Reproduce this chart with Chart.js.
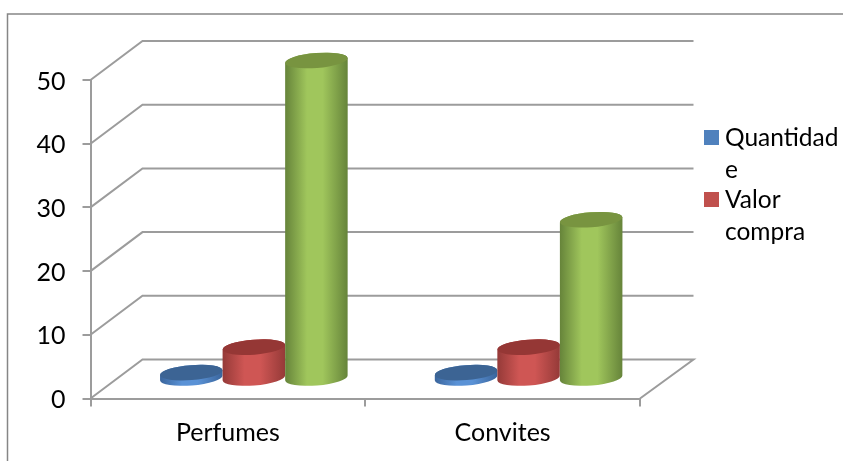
<!DOCTYPE html>
<html><head><meta charset="utf-8">
<style>html,body{margin:0;padding:0;background:#fff;overflow:hidden}canvas{display:block}</style>
<script src="https://cdn.jsdelivr.net/npm/chart.js@4"></script></head>
<body><canvas id="c" width="843" height="461"></canvas>
<script>
const categories = ["Perfumes", "Convites"];
const quantidade = [1, 1];
const valorCompra = [5, 5];
const valorVenda = [50, 25];
const legendQuantidade = ["Quantidad", "e"];
const legendValor = ["Valor", "compra"];
const yTicks = [0, 10, 20, 30, 40, 50];

const FONT = 'Lato, "Noto Sans", sans-serif';
const GRID = '#9c9c9c';
const DEPTH_X = 52, DEPTH_Y = 39;
const looks = [
  {edge:'#3a659c', mid:'#5a92d6', top:'#3c6494'},
  {edge:'#953a38', mid:'#cf5654', top:'#953735'},
  {edge:'#66843a', mid:'#a0c65c', top:'#789440'}
];

const scene = {
  id: 'scene',
  beforeDatasetsDraw(chart) {
    const {ctx, chartArea:a, scales:{y}} = chart;
    ctx.save();
    ctx.strokeStyle = '#868686'; ctx.lineWidth = 1.5;
    ctx.beginPath(); ctx.moveTo(7.5, 461); ctx.lineTo(7.5, 14); ctx.lineTo(843, 14); ctx.stroke();
    ctx.strokeStyle = GRID; ctx.lineWidth = 2;
    yTicks.forEach(v => {
      const py = y.getPixelForValue(v);
      ctx.beginPath();
      ctx.moveTo(a.left, py);
      ctx.lineTo(a.left + DEPTH_X, py - DEPTH_Y);
      ctx.lineTo(693.5, py - DEPTH_Y);
      if (v === 0) ctx.lineTo(a.right, py);
      ctx.stroke();
    });
    ctx.restore();
  },
  beforeDatasetDraw() { return false; },
  afterDatasetsDraw(chart) {
    const ctx = chart.ctx;
    chart.data.datasets.forEach((ds, i) => {
      chart.getDatasetMeta(i).data.forEach(el => {
        cylinder(ctx, el.x + DEPTH_X / 2, el.y - DEPTH_Y / 2, el.base - DEPTH_Y / 2, el.width, looks[i]);
      });
    });
    drawLegend(ctx);
  }
};

function cylinder(ctx, cx, top, base, w, look) {
  const rx = w / 2, ry = 7.5, rot = -4.5 * Math.PI / 180;
  const dy = rx * Math.sin(rot);
  ctx.save();
  const g = ctx.createLinearGradient(cx - rx, 0, cx + rx, 0);
  g.addColorStop(0, look.edge);
  g.addColorStop(0.35, look.mid);
  g.addColorStop(0.6, look.mid);
  g.addColorStop(1, look.edge);
  ctx.fillStyle = g;
  ctx.beginPath();
  ctx.moveTo(cx - rx, top - dy);
  ctx.lineTo(cx - rx, base - dy);
  ctx.ellipse(cx, base, rx, ry, rot, Math.PI, 0, true);
  ctx.lineTo(cx + rx, top + dy);
  ctx.ellipse(cx, top, rx, ry, rot, 0, Math.PI, true);
  ctx.closePath();
  ctx.fill();
  ctx.fillStyle = look.top;
  ctx.beginPath();
  ctx.ellipse(cx, top, rx, ry, rot, 0, Math.PI * 2);
  ctx.fill();
  ctx.restore();
}

function drawLegend(ctx) {
  ctx.save();
  const entries = [[legendQuantidade, '#4f81bd', 130], [legendValor, '#c0504d', 192]];
  ctx.font = '24.5px ' + FONT;
  ctx.textBaseline = 'middle';
  ctx.textAlign = 'left';
  entries.forEach(([lines, color, y0]) => {
    ctx.fillStyle = color;
    ctx.fillRect(704, y0, 15, 15);
    ctx.fillStyle = '#000';
    lines.forEach((t, k) => ctx.fillText(t, 725, y0 + 8 + k * 32));
  });
  ctx.restore();
}

new Chart(document.getElementById('c'), {
  type: 'bar',
  data: {
    labels: categories,
    datasets: [
      {label: 'Quantidade', data: quantidade, backgroundColor: '#4f81bd'},
      {label: 'Valor compra', data: valorCompra, backgroundColor: '#c0504d'},
      {label: 'Valor venda', data: valorVenda, backgroundColor: '#9bbb59'}
    ]
  },
  options: {
    responsive: false,
    animation: false,
    devicePixelRatio: 1,
    layout: {padding: {top: 80, right: 203, left: 0, bottom: 0}},
    plugins: {legend: {display: false}, title: {display: false}, tooltip: {enabled: false}},
    datasets: {bar: {barPercentage: 1, categoryPercentage: 0.683}},
    scales: {
      x: {
        grid: {display: true, drawOnChartArea: false, drawTicks: true, tickLength: 8, tickColor: GRID, lineWidth: 2},
        border: {display: true, color: GRID, width: 2},
        ticks: {color: '#000', font: {family: FONT, size: 25}, padding: 11, maxRotation: 0},
        afterFit(s) { s.height = 62.5; }
      },
      y: {
        min: 0, max: 50,
        grid: {display: true, drawOnChartArea: false, drawTicks: true, tickLength: 8, tickColor: GRID, lineWidth: 2},
        border: {display: true, color: GRID, width: 2},
        ticks: {color: '#000', font: {family: FONT, size: 25}, padding: 17, stepSize: 10, labelOffset: 1.5, callback: v => yTicks.includes(v) ? String(v) : ''},
        afterFit(s) { s.width = 90.5; }
      }
    }
  },
  plugins: [scene]
});
</script></body></html>
